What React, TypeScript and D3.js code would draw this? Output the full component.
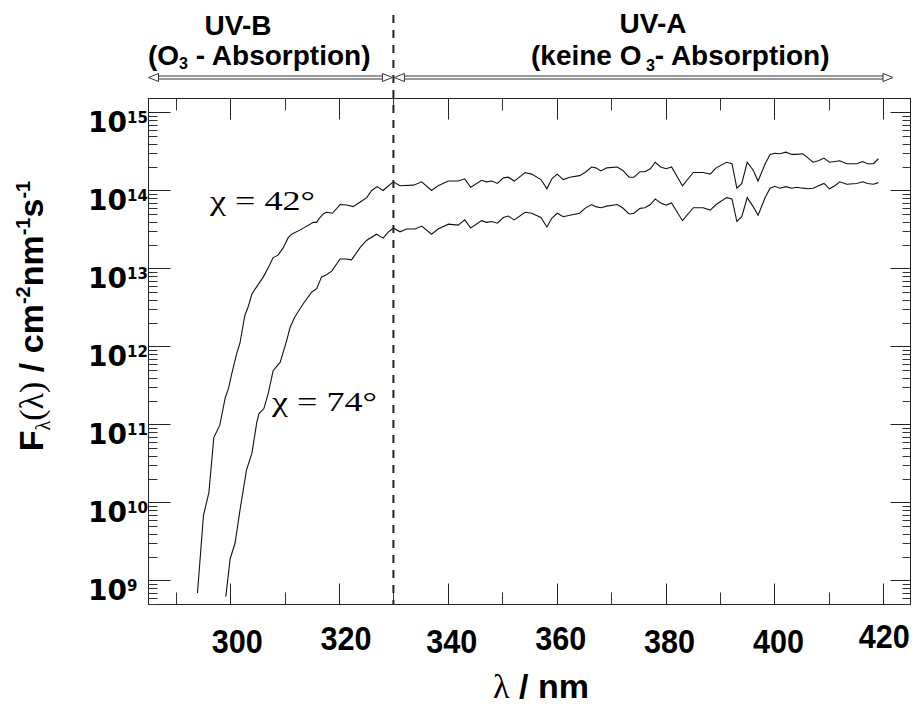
import React from "react";
import * as d3 from "d3";

// χ = 42° spectrum (wavelength in nm, spectral photon flux in cm^-2 nm^-1 s^-1)
const wl42 = [294.0, 295.1, 296.1, 297.0, 298.1, 299.1, 299.7, 300.3, 301.2, 301.8, 302.7, 303.3, 304.0, 305.2, 306.1, 307.0, 307.9, 308.8, 309.7, 310.7, 311.3, 312.8, 315.3, 315.9, 316.5, 317.1, 317.7, 318.8, 320.2, 321.4, 322.6, 323.9, 325.1, 326.0, 327.0, 328.1, 329.1, 330.0, 331.2, 333.7, 335.2, 337.0, 338.2, 340.1, 341.9, 343.1, 344.2, 346.2, 347.1, 348.1, 349.1, 350.2, 351.1, 352.2, 354.2, 355.4, 357.1, 358.2, 359.1, 360.1, 361.2, 362.4, 364.2, 365.2, 366.4, 367.2, 368.1, 369.2, 371.1, 372.1, 373.3, 374.2, 375.3, 376.2, 377.2, 378.1, 379.1, 380.1, 381.1, 383.1, 385.1, 386.9, 388.2, 389.3, 391.2, 392.2, 393.1, 394.0, 395.0, 396.1, 397.0, 398.3, 399.2, 400.1, 401.0, 402.1, 403.2, 404.1, 405.2, 406.2, 407.1, 408.1, 409.1, 410.1, 411.1, 412.0, 413.3, 415.1, 416.2, 417.1, 418.2, 419.1];
const flux42 = [6.9e8, 6.8e9, 1.35e10, 6.8e10, 9.8e10, 2.2e11, 2.9e11, 4.5e11, 8.1e11, 1.1e12, 2.5e12, 3.2e12, 4.7e12, 6.3e12, 7.8e12, 1.02e13, 1.38e13, 1.48e13, 1.82e13, 2.5e13, 2.75e13, 3.1e13, 3.9e13, 3.9e13, 4.5e13, 5.0e13, 5.25e13, 5.1e13, 6.6e13, 6.5e13, 6.2e13, 7.1e13, 8.1e13, 1.0e14, 1.12e14, 1.0e14, 1.15e14, 1.29e14, 1.15e14, 1.17e14, 1.29e14, 1.0e14, 1.15e14, 1.32e14, 1.32e14, 1.41e14, 1.10e14, 1.35e14, 1.29e14, 1.32e14, 1.23e14, 1.45e14, 1.48e14, 1.32e14, 1.70e14, 1.62e14, 1.38e14, 1.05e14, 1.41e14, 1.62e14, 1.38e14, 1.48e14, 1.55e14, 1.70e14, 2.0e14, 1.95e14, 1.78e14, 1.95e14, 2.0e14, 1.82e14, 1.48e14, 1.48e14, 1.74e14, 1.74e14, 1.9e14, 2.3e14, 2.0e14, 1.9e14, 2.0e14, 1.15e14, 1.70e14, 1.70e14, 1.62e14, 1.95e14, 2.3e14, 2.2e14, 1.07e14, 1.23e14, 2.3e14, 1.82e14, 1.32e14, 2.2e14, 2.9e14, 3.0e14, 2.95e14, 3.1e14, 2.9e14, 2.9e14, 2.95e14, 2.6e14, 2.3e14, 2.4e14, 2.6e14, 2.3e14, 2.35e14, 2.4e14, 2.2e14, 2.2e14, 2.35e14, 2.2e14, 2.2e14, 2.55e14];

// χ = 74° spectrum
const wl74 = [299.2, 300.0, 300.9, 301.8, 303.0, 304.0, 304.9, 305.3, 306.2, 307.0, 307.9, 309.2, 310.4, 311.0, 311.9, 313.4, 315.0, 315.9, 316.8, 317.7, 318.7, 320.2, 321.3, 322.3, 323.9, 325.1, 326.9, 328.1, 329.1, 330.0, 331.2, 332.4, 334.0, 335.2, 337.0, 338.2, 340.1, 341.9, 343.1, 344.2, 346.2, 347.1, 348.1, 349.1, 350.2, 351.1, 352.2, 354.2, 355.4, 357.1, 358.2, 359.1, 360.1, 361.2, 362.4, 364.2, 365.2, 366.4, 367.2, 368.1, 369.2, 371.1, 372.1, 373.3, 374.2, 375.3, 376.2, 377.2, 378.1, 379.1, 380.1, 381.1, 383.1, 385.1, 386.9, 388.2, 389.3, 391.2, 392.2, 393.1, 394.0, 395.0, 396.1, 397.0, 398.3, 399.2, 400.1, 401.0, 402.1, 403.2, 404.1, 405.2, 406.2, 407.1, 408.1, 409.1, 410.1, 411.1, 412.0, 413.3, 415.1, 416.2, 417.1, 418.2, 419.1];
const flux74 = [6.2e8, 1.9e9, 3.0e9, 7.9e9, 2.6e10, 4.3e10, 1.07e11, 1.38e11, 1.6e11, 2.5e11, 4.9e11, 6.3e11, 1.2e12, 1.75e12, 2.4e12, 3.5e12, 5.0e12, 5.5e12, 7.8e12, 8.3e12, 9.3e12, 1.32e13, 1.32e13, 1.29e13, 1.86e13, 2.3e13, 2.75e13, 2.45e13, 2.95e13, 3.3e13, 2.95e13, 3.2e13, 3.2e13, 3.5e13, 2.75e13, 3.2e13, 3.7e13, 3.6e13, 4.2e13, 3.3e13, 4.1e13, 3.9e13, 4.0e13, 3.8e13, 4.5e13, 4.7e13, 4.2e13, 5.25e13, 5.1e13, 4.5e13, 3.4e13, 4.4e13, 5.1e13, 4.6e13, 4.8e13, 5.1e13, 5.9e13, 6.6e13, 6.2e13, 6.0e13, 6.3e13, 6.6e13, 6.0e13, 5.0e13, 5.1e13, 5.9e13, 6.0e13, 6.6e13, 7.8e13, 6.9e13, 6.5e13, 6.9e13, 4.1e13, 6.0e13, 6.0e13, 5.6e13, 6.6e13, 8.1e13, 7.8e13, 4.0e13, 4.6e13, 8.1e13, 6.2e13, 4.8e13, 8.1e13, 1.07e14, 1.13e14, 1.07e14, 1.12e14, 1.07e14, 1.10e14, 1.07e14, 1.05e14, 1.07e14, 1.15e14, 1.23e14, 1.05e14, 1.15e14, 1.29e14, 1.20e14, 1.23e14, 1.29e14, 1.23e14, 1.20e14, 1.26e14];

const xMajorTicks = [300, 320, 340, 360, 380, 400, 420];
const xMinorTicks = [290, 310, 330, 350, 370, 390, 410];
const yDecadeExponents = [9, 10, 11, 12, 13, 14, 15];
const boundaryNm = 330;

// layout constants
const W = 915, H = 704;
const L = 148.5, R = 910.5, T = 98.5, B = 604.5;
const xLabelDx = [7, 7, 4, 4, 4, 4, 1];
const xLabelBase = [653, 650, 653, 650, 653, 653, 648];

const SANS = "'Liberation Sans', Arial, Helvetica, sans-serif";
const WIDE = "'DejaVu Sans', 'Liberation Sans', sans-serif";
const SERIF = "'Liberation Serif', 'Times New Roman', serif";

export default function App() {
  const x = d3.scaleLinear().domain([285, 425]).range([L, R]);
  const y = d3.scaleLog().domain([4.92e8, 1.51e15]).range([B, T]);

  const line = d3
    .line<[number, number]>()
    .x((d) => x(d[0]))
    .y((d) => y(d[1]));

  const s42 = wl42.map((w, i) => [w, flux42[i]] as [number, number]);
  const s74 = wl74.map((w, i) => [w, flux74[i]] as [number, number]);

  // minor log ticks
  const minorY: number[] = [];
  const [d0, d1] = y.domain();
  for (let e = 8; e <= 15; e++) {
    for (let m = 2; m <= 9; m++) {
      const v = m * Math.pow(10, e);
      if (v > d0 && v < d1) minorY.push(v);
    }
  }

  const bx = x(boundaryNm);
  const ay = 77.5;

  const arrowHead = (tipX: number, dir: number) => {
    const bxh = tipX - dir * 10;
    return `M${tipX},${ay} L${bxh},${ay - 4} L${bxh},${ay + 4} Z`;
  };

  return (
    <svg
      width={W}
      height={H}
      style={{ position: "absolute", left: 0, top: 0, background: "#fff" }}
    >
      <rect x={0} y={0} width={W} height={H} fill="#fff" />

      {/* frame */}
      <rect x={L} y={T} width={R - L} height={B - T} fill="none" stroke="#222" strokeWidth={1} />

      {/* y ticks */}
      {yDecadeExponents.map((e) => {
        const yy = Math.round(y(Math.pow(10, e))) + 0.5;
        return (
          <g key={"yd" + e}>
            <line x1={L} x2={L + 22} y1={yy} y2={yy} stroke="#222" />
            <line x1={R} x2={R - 20} y1={yy} y2={yy} stroke="#222" />
          </g>
        );
      })}
      {minorY.map((v, i) => {
        const yy = Math.round(y(v)) + 0.5;
        return (
          <g key={"ym" + i}>
            <line x1={L} x2={L + 9} y1={yy} y2={yy} stroke="#333" />
            <line x1={R} x2={R - 8} y1={yy} y2={yy} stroke="#333" />
          </g>
        );
      })}

      {/* x ticks */}
      {xMajorTicks.map((t) => {
        const xx = Math.round(x(t)) + 0.5;
        return (
          <g key={"xM" + t}>
            <line x1={xx} x2={xx} y1={B} y2={B - 21} stroke="#222" />
            <line x1={xx} x2={xx} y1={T} y2={T + 21} stroke="#222" />
          </g>
        );
      })}
      {xMinorTicks.map((t) => {
        const xx = Math.round(x(t)) + 0.5;
        return (
          <g key={"xm" + t}>
            <line x1={xx} x2={xx} y1={B} y2={B - 12} stroke="#333" />
            <line x1={xx} x2={xx} y1={T} y2={T + 12} stroke="#333" />
          </g>
        );
      })}

      {/* y tick labels */}
      {yDecadeExponents.map((e) => {
        const yy = y(Math.pow(10, e));
        return (
          <text
            key={"yl" + e}
            x={88}
            y={yy + 20}
            fontFamily={WIDE}
            fontWeight="bold"
            fontSize={28}
            fill="#000"
          >
            10
            <tspan dy={-9} fontSize={15}>
              {e}
            </tspan>
          </text>
        );
      })}

      {/* x tick labels */}
      {xMajorTicks.map((t, i) => (
        <text
          key={"xl" + t}
          transform={`translate(${x(t) + xLabelDx[i]},${xLabelBase[i]}) scale(0.9,1)`}
          textAnchor="middle"
          fontFamily={SANS}
          fontWeight="bold"
          fontSize={34}
          fill="#000"
        >
          {t}
        </text>
      ))}

      {/* axis titles */}
      <text x={541} y={698} textAnchor="middle" fontSize={34} fill="#000">
        <tspan fontFamily={SERIF}>λ</tspan>
        <tspan fontFamily={SANS} fontWeight="bold"> / nm</tspan>
      </text>

      <text
        transform="translate(43,316) rotate(-90)"
        textAnchor="middle"
        fontFamily={SANS}
        fontWeight="bold"
        fontSize={34}
        fill="#000"
      >
        F
        <tspan fontFamily={SERIF} fontWeight="normal" fontSize={20} dy={7}>λ</tspan>
        <tspan fontFamily={SERIF} fontWeight="normal" dy={-7}>(λ)</tspan>
        <tspan> / cm</tspan>
        <tspan fontSize={20} dy={-13}>-2</tspan>
        <tspan dy={13}>nm</tspan>
        <tspan fontSize={20} dy={-13}>-1</tspan>
        <tspan dy={13}>s</tspan>
        <tspan fontSize={20} dy={-13}>-1</tspan>
      </text>

      {/* curves */}
      <path d={line(s42) || ""} fill="none" stroke="#111" strokeWidth={1.1} />
      <path d={line(s74) || ""} fill="none" stroke="#111" strokeWidth={1.1} />

      {/* curve annotations */}
      <text transform="translate(210,210) scale(1.29,1)" fontFamily={SERIF} fontSize={28} fill="#000">
        χ = 42°
      </text>
      <text transform="translate(272,411) scale(1.29,1)" fontFamily={SERIF} fontSize={28} fill="#000">
        χ = 74°
      </text>

      {/* boundary dashed line */}
      <line x1={bx} x2={bx} y1={15} y2={B} stroke="#222" strokeWidth={2} strokeDasharray="8,7" />

      {/* range arrows */}
      <g stroke="#333" strokeWidth={1} fill="none">
        <line x1={L + 9} x2={bx - 10} y1={ay - 1.5} y2={ay - 1.5} />
        <line x1={L + 9} x2={bx - 10} y1={ay + 1.5} y2={ay + 1.5} />
        <line x1={bx + 11} x2={893 - 10} y1={ay - 1.5} y2={ay - 1.5} />
        <line x1={bx + 11} x2={893 - 10} y1={ay + 1.5} y2={ay + 1.5} />
        <path d={arrowHead(L, -1)} fill="#fff" />
        <path d={arrowHead(bx - 1, 1)} fill="#fff" />
        <path d={arrowHead(bx + 1, -1)} fill="#fff" />
        <path d={arrowHead(893, 1)} fill="#fff" />
      </g>

      {/* range labels */}
      <text x={238} y={35} textAnchor="middle" fontFamily={SANS} fontWeight="bold" fontSize={28} fill="#000">
        UV-B
      </text>
      <text x={148} y={65} fontFamily={SANS} fontWeight="bold" fontSize={28} fill="#000">
        (O<tspan fontSize={16} dy={4}>3</tspan>
        <tspan dy={-4}> - Absorption)</tspan>
      </text>
      <text x={653} y={33} textAnchor="middle" fontFamily={SANS} fontWeight="bold" fontSize={28} fill="#000">
        UV-A
      </text>
      <text x={531} y={65} fontFamily={SANS} fontWeight="bold" fontSize={28} fill="#000">
        (keine O<tspan fontSize={16} dy={6}> 3</tspan>
        <tspan dy={-6}>- Absorption)</tspan>
      </text>
    </svg>
  );
}
